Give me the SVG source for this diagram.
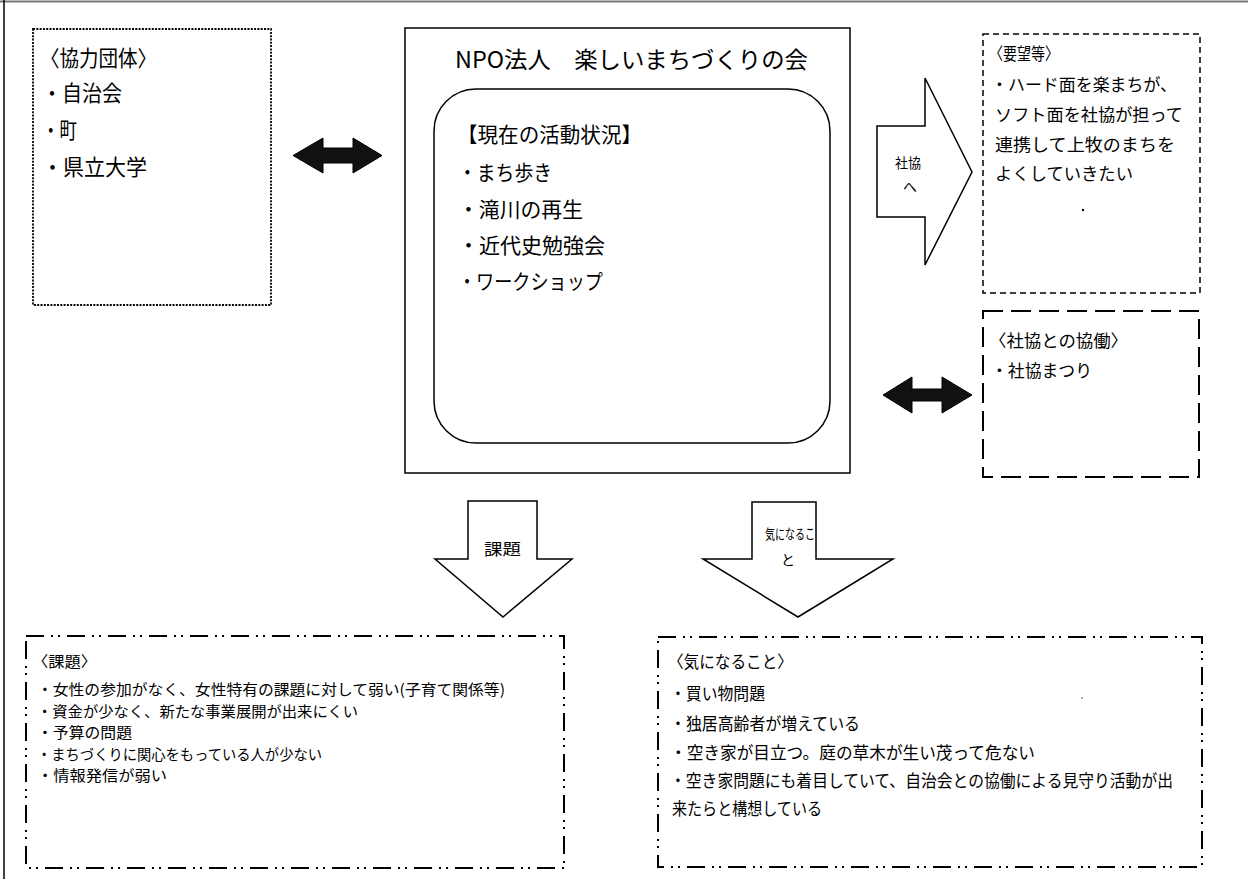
<svg xmlns="http://www.w3.org/2000/svg" width="1248" height="879" viewBox="0 0 1248 879">
<style>
text{font-family:"Noto Sans CJK JP","Noto Sans CJK SC",sans-serif;fill:#000}
.box{fill:none;stroke:#000}
.dotted{stroke-width:1.8;stroke-dasharray:2 1.3}
.solid{stroke-width:1.5}
.dash{stroke-width:1.5;stroke-dasharray:6 4}
.ldash{stroke-width:2;stroke-dasharray:20 8}
.ddd{stroke-width:2;stroke-dasharray:18 7 2 5 2 7}
.blk{fill:#fff;stroke:#000;stroke-width:1.5;stroke-linejoin:miter}
.dbl{fill:#111;stroke:#000;stroke-width:1}
.f22{font-size:22px}
.f23{font-size:23px}
.f21{font-size:21px}
.f17{font-size:17px}
.f16{font-size:16px}
.f15{font-size:15px}
.f14{font-size:14px}
</style>
<g id="frame">
<line x1="0" y1="1.5" x2="1248" y2="1.5" stroke="#777" stroke-width="2"/>
<line x1="4" y1="0" x2="4" y2="879" stroke="#000" stroke-width="1.5"/>
</g>
<g id="kyoryoku">
<rect class="box dotted" x="33" y="29" width="238" height="276"/>
<text class="f22" x="40" y="66" textLength="117" lengthAdjust="spacingAndGlyphs">〈協力団体〉</text>
<text class="f22" x="42" y="101" textLength="80" lengthAdjust="spacingAndGlyphs">・自治会</text>
<text class="f22" x="42" y="138" textLength="35" lengthAdjust="spacingAndGlyphs">・町</text>
<text class="f22" x="42" y="175" textLength="105" lengthAdjust="spacingAndGlyphs">・県立大学</text>
</g>
<g id="npo">
<rect class="box solid" x="405" y="28" width="445" height="445"/>
<text class="f23" x="455" y="68" textLength="353" lengthAdjust="spacingAndGlyphs">NPO法人　楽しいまちづくりの会</text>
</g>
<g id="katsudo">
<rect class="box solid" x="434" y="89" width="396" height="354" rx="42" ry="42"/>
<text class="f21" x="457" y="142" textLength="185" lengthAdjust="spacingAndGlyphs">【現在の活動状況】</text>
<text class="f21" x="458" y="180" textLength="94" lengthAdjust="spacingAndGlyphs">・まち歩き</text>
<text class="f21" x="458" y="217" textLength="125" lengthAdjust="spacingAndGlyphs">・滝川の再生</text>
<text class="f21" x="458" y="253" textLength="147" lengthAdjust="spacingAndGlyphs">・近代史勉強会</text>
<text class="f21" x="458" y="289" textLength="145" lengthAdjust="spacingAndGlyphs">・ワークショップ</text>
</g>
<g id="yobo">
<rect class="box dash" x="983" y="34" width="217" height="259"/>
<text class="f17" x="989" y="60" textLength="70" lengthAdjust="spacingAndGlyphs">〈要望等〉</text>
<text class="f17" x="991" y="91" textLength="186" lengthAdjust="spacingAndGlyphs">・ハード面を楽まちが、</text>
<text class="f17" x="995" y="121" textLength="188" lengthAdjust="spacingAndGlyphs">ソフト面を社協が担って</text>
<text class="f17" x="995" y="151" textLength="180" lengthAdjust="spacingAndGlyphs">連携して上牧のまちを</text>
<text class="f17" x="995" y="180" textLength="138" lengthAdjust="spacingAndGlyphs">よくしていきたい</text>
<circle cx="1083" cy="210" r="1.2" fill="#000"/>
</g>
<g id="kyodo">
<rect class="box ldash" x="983" y="311" width="216" height="166"/>
<text class="f17" x="989" y="347" textLength="139" lengthAdjust="spacingAndGlyphs">〈社協との協働〉</text>
<text class="f17" x="991" y="377" textLength="101" lengthAdjust="spacingAndGlyphs">・社協まつり</text>
</g>
<g id="kadai">
<rect class="box ddd" x="26" y="636" width="538" height="232"/>
<text class="f15" x="32" y="667" textLength="65" lengthAdjust="spacingAndGlyphs">〈課題〉</text>
<text class="f15" x="37" y="695" textLength="468" lengthAdjust="spacingAndGlyphs">・女性の参加がなく、女性特有の課題に対して弱い(子育て関係等)</text>
<text class="f15" x="37" y="717" textLength="321" lengthAdjust="spacingAndGlyphs">・資金が少なく、新たな事業展開が出来にくい</text>
<text class="f15" x="37" y="738" textLength="95" lengthAdjust="spacingAndGlyphs">・予算の問題</text>
<text class="f15" x="37" y="760" textLength="285" lengthAdjust="spacingAndGlyphs">・まちづくりに関心をもっている人が少ない</text>
<text class="f15" x="37" y="781" textLength="130" lengthAdjust="spacingAndGlyphs">・情報発信が弱い</text>
</g>
<g id="kininaru">
<rect class="box ddd" x="658" y="637" width="544" height="230"/>
<text class="f17" x="668" y="668" textLength="125" lengthAdjust="spacingAndGlyphs">〈気になること〉</text>
<text class="f17" x="670" y="700" textLength="95" lengthAdjust="spacingAndGlyphs">・買い物問題</text>
<text class="f17" x="670" y="730" textLength="190" lengthAdjust="spacingAndGlyphs">・独居高齢者が増えている</text>
<text class="f17" x="670" y="759" textLength="365" lengthAdjust="spacingAndGlyphs">・空き家が目立つ。庭の草木が生い茂って危ない</text>
<text class="f17" x="670" y="787" textLength="503" lengthAdjust="spacingAndGlyphs">・空き家問題にも着目していて、自治会との協働による見守り活動が出</text>
<text class="f17" x="672" y="815" textLength="150" lengthAdjust="spacingAndGlyphs">来たらと構想している</text>
<circle cx="1082" cy="698" r="0.8" fill="#555"/>
</g>
<g id="connectors">
<polygon class="dbl" points="293,155.5 323,138 323,148 353,148 353,138 382,155.5 353,173 353,163 323,163 323,173"/>
<polygon class="dbl" points="883,395 912,377 912,389 942,389 942,377 972,395 942,413 942,401 912,401 912,413"/>
<polygon class="blk" points="877,126 925,126 925,78 972,172 925,265 925,217 877,217"/>
<text class="f14" x="895" y="168" textLength="26" lengthAdjust="spacingAndGlyphs">社協</text>
<text class="f14" x="903" y="192">へ</text>
<polygon class="blk" points="468,501 537,501 537,559 572,559 503,617 435,559 468,559"/>
<text class="f16" x="484" y="555" textLength="37" lengthAdjust="spacingAndGlyphs">課題</text>
<polygon class="blk" points="752,502 816,502 816,559 893,559 798,617 703,559 752,559"/>
<text class="f14" x="765" y="539" textLength="50" lengthAdjust="spacingAndGlyphs">気になるこ</text>
<text class="f14" x="781" y="565">と</text>
</g>
</svg>
